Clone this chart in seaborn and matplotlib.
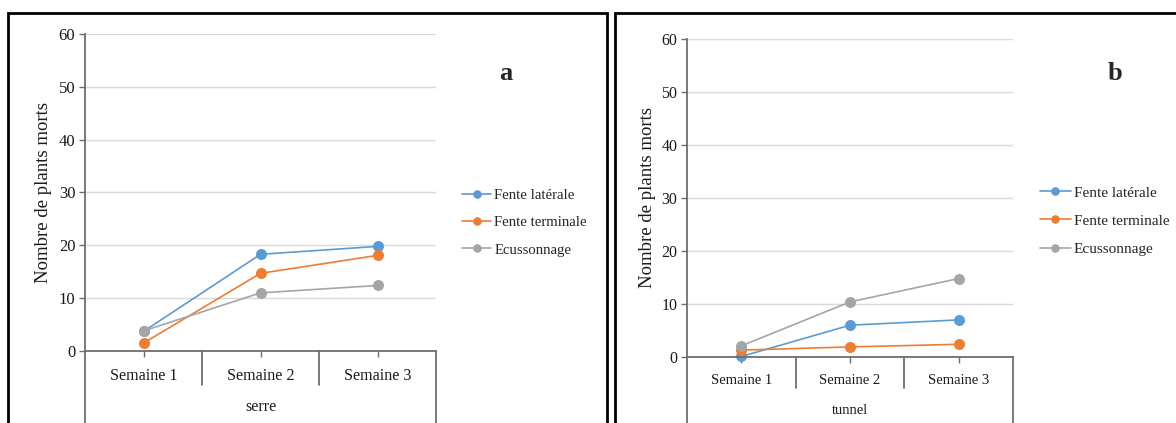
import matplotlib.pyplot as plt
from matplotlib.patches import Rectangle
import pandas as pd
import seaborn as sns

semaines = ['Semaine 1', 'Semaine 2', 'Semaine 3']
greffages = ['Fente latérale', 'Fente terminale', 'Ecussonnage']
couleurs = ['#5B9BD5', '#ED7D31', '#A5A5A5']

# serre (a)
serre_laterale = [3.7, 18.3, 19.8]
serre_terminale = [1.5, 14.7, 18.1]
serre_ecusson = [3.8, 11.0, 12.4]
# tunnel (b)
tunnel_laterale = [0.1, 6.0, 7.0]
tunnel_terminale = [1.3, 1.9, 2.4]
tunnel_ecusson = [2.1, 10.4, 14.8]


def tableau(lat, term, ecu):
    return pd.DataFrame({
        'semaine': semaines * 3,
        'greffage': [g for g in greffages for _ in semaines],
        'morts': lat + term + ecu,
    })


sns.set_theme(style='white')
plt.rcParams['font.family'] = ['Liberation Serif', 'DejaVu Serif']

fig = plt.figure(figsize=(11.76, 4.23), dpi=100)

# panel frames
fig.add_artist(Rectangle((8 / 1176, -0.1), 599 / 1176, 1.1 - 13 / 423,
                         transform=fig.transFigure, fill=False, lw=2, ec='black'))
fig.add_artist(Rectangle((615 / 1176, -0.1), 0.6, 1.1 - 13 / 423,
                         transform=fig.transFigure, fill=False, lw=2, ec='black'))

ax_a = fig.add_axes([85 / 1176, 72 / 423, 351 / 1176, 317 / 423])
ax_b = fig.add_axes([687 / 1176, 66 / 423, 326 / 1176, 318 / 423])

panels = [
    (ax_a, tableau(serre_laterale, serre_terminale, serre_ecusson), 'serre', 'a',
     12, 11.6, 10.6, 1.074, 0.405, -0.107),
    (ax_b, tableau(tunnel_laterale, tunnel_terminale, tunnel_ecusson), 'tunnel', 'b',
     11.5, 10.5, 11, 1.083, 0.428, -0.097),
]

axe_gris = '#6e6e6e'
for ax, df, groupe, lettre, fs_y, fs_x, fs_leg, leg_x, leg_y, sep_y in panels:
    sns.pointplot(data=df, x='semaine', y='morts', hue='greffage',
                  palette=couleurs, markers='o', linestyles='-',
                  markersize=7, linewidth=1.2, clip_on=False, ax=ax)
    ax.set_xlim(-0.5, 2.5)
    ax.set_ylim(0, 60)
    ax.set_yticks(range(0, 61, 10))
    ax.yaxis.grid(True, color='#d9d9d9', lw=1)
    ax.xaxis.grid(False)
    ax.set_axisbelow(True)
    for s in ['top', 'right']:
        ax.spines[s].set_visible(False)
    for s in ['left', 'bottom']:
        ax.spines[s].set_color(axe_gris)
        ax.spines[s].set_linewidth(1.3)
    ax.tick_params(axis='y', left=True, length=4, width=1, color=axe_gris,
                   labelsize=fs_y, pad=3, labelcolor='#1a1a1a')
    ax.tick_params(axis='x', bottom=True, length=4, width=1, color=axe_gris,
                   labelsize=fs_x, pad=8, labelcolor='#1a1a1a')
    ax.set_xlabel('')
    ax.set_ylabel('Nombre de plants morts', fontsize=13.5, color='#1a1a1a')
    ax.yaxis.set_label_coords(-0.094, 0.5)

    # category separators (Excel multi-level axis)
    tr = ax.get_xaxis_transform()
    for xs in [0.5, 1.5]:
        ax.plot([xs, xs], [0, sep_y], transform=tr, color=axe_gris, lw=1.3, clip_on=False)
    for xs in [-0.5, 2.5]:
        ax.plot([xs, xs], [0, -0.4], transform=tr, color=axe_gris, lw=1.3, clip_on=False)
    ax.text(0.5, sep_y - 0.07, groupe, transform=ax.transAxes, ha='center', va='center',
            fontsize=fs_x, color='#1a1a1a')

    ax.legend(loc='center left', bbox_to_anchor=(leg_x, leg_y), frameon=False,
              fontsize=fs_leg, handlelength=2.0, handletextpad=0.2,
              labelspacing=0.95, borderpad=0, borderaxespad=0, markerscale=0.75)

fig.text(506 / 1176, 1 - 80 / 423, 'a', fontsize=19, fontweight='bold',
         ha='center', va='baseline')
fig.text(1115 / 1176, 1 - 80 / 423, 'b', fontsize=19, fontweight='bold',
         ha='center', va='baseline')

fig.savefig('out.png', dpi=100)
